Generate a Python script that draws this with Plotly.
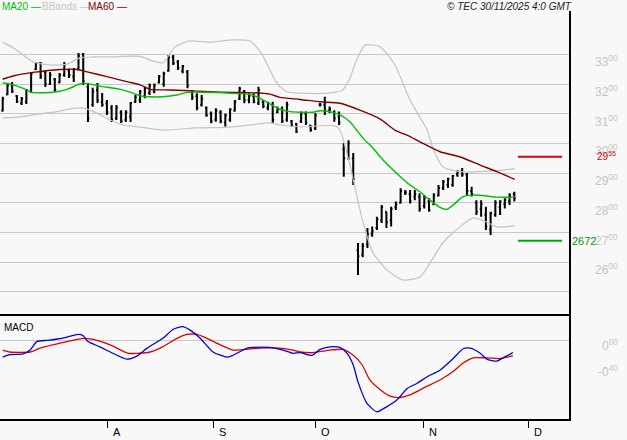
import plotly.graph_objects as go

# ---------------- data ----------------
bar_index = list(range(109))
opens = [31.10, 31.65, 31.95, 31.60, 31.35, 31.40, 31.75, 32.50, 32.70, 32.40,
         32.00, 32.15, 32.05, 32.30, 32.45, 32.25, 32.50, 33.00, 31.90, 31.30,
         31.80, 31.40, 31.35, 31.20, 30.85, 31.05, 30.80, 30.90, 31.40, 31.45,
         31.60, 31.70, 31.75, 32.05, 32.00, 32.45, 32.90, 32.75, 32.45, 32.40,
         31.75, 31.60, 31.30, 31.20, 31.00, 30.80, 31.05, 30.70, 30.80, 31.10,
         31.50, 31.75, 31.45, 31.60, 31.35, 31.40, 31.20, 31.30, 31.05, 31.15,
         30.80, 30.75, 30.65, 30.75, 31.00, 30.60, 30.50, 31.30, 31.30, 31.10,
         31.05, 30.90, 29.80, 29.60, 29.50, 26.40, 26.25, 26.60, 26.95, 27.15,
         27.40, 27.70, 27.40, 27.85, 28.00, 28.35, 28.30, 28.20, 28.20, 27.90,
         28.05, 27.95, 28.25, 28.50, 28.60, 28.60, 28.95, 29.05, 28.95, 28.40,
         28.00, 27.80, 27.60, 27.10, 27.60, 27.85, 27.95, 28.05, 28.30]
highs = [31.57, 32.03, 32.07, 31.63, 31.56, 31.83, 32.40, 32.74, 32.74, 32.47,
         32.40, 32.20, 32.37, 32.74, 32.51, 32.54, 33.04, 33.04, 32.03, 31.87,
         32.03, 31.70, 31.46, 31.29, 31.29, 31.12, 31.12, 31.39, 31.63, 31.80,
         31.91, 32.02, 32.02, 32.30, 32.41, 32.98, 32.98, 32.81, 32.64, 32.47,
         31.80, 31.69, 31.63, 31.24, 31.07, 31.18, 31.12, 31.01, 31.18, 31.46,
         31.91, 31.80, 31.69, 31.69, 31.91, 31.46, 31.40, 31.40, 31.24, 31.24,
         31.40, 30.79, 30.69, 31.07, 31.07, 30.62, 31.02, 31.36, 31.57, 31.24,
         31.12, 31.07, 30.01, 30.11, 29.68, 26.65, 26.65, 27.15, 27.20, 27.53,
         27.93, 27.70, 27.87, 28.04, 28.49, 28.43, 28.43, 28.43, 28.32, 28.26,
         28.15, 28.32, 28.60, 28.77, 28.84, 28.94, 29.10, 29.17, 29.00, 28.54,
         28.09, 28.09, 27.87, 27.70, 28.09, 28.09, 28.15, 28.32, 28.37]
lows = [31.07, 31.63, 31.70, 31.36, 31.29, 31.33, 31.70, 32.47, 32.17, 31.90,
        31.97, 31.73, 32.03, 32.24, 32.20, 32.07, 32.47, 31.97, 30.72, 31.23,
        31.36, 31.23, 30.96, 30.72, 30.79, 30.69, 30.72, 30.72, 31.36, 31.36,
        31.52, 31.63, 31.69, 32.02, 31.91, 32.41, 32.64, 32.47, 32.36, 31.86,
        31.46, 31.12, 31.24, 30.90, 30.68, 30.73, 30.68, 30.56, 30.73, 31.07,
        31.46, 31.35, 31.35, 31.35, 31.29, 31.18, 31.12, 30.69, 31.02, 30.69,
        30.73, 30.56, 30.35, 30.69, 30.62, 30.39, 30.45, 31.24, 30.96, 31.02,
        30.73, 30.62, 28.88, 29.44, 28.60, 25.57, 26.17, 26.48, 26.86, 27.08,
        27.32, 27.15, 27.20, 27.76, 27.98, 28.26, 27.98, 28.09, 27.70, 27.81,
        27.70, 27.93, 28.21, 28.43, 28.50, 28.54, 28.88, 28.88, 28.26, 28.21,
        27.59, 27.53, 27.08, 26.92, 27.53, 27.59, 27.81, 27.93, 28.04]
closes = [31.50, 31.95, 31.75, 31.40, 31.50, 31.80, 32.35, 32.70, 32.25, 32.00,
          32.30, 31.80, 32.30, 32.65, 32.30, 32.50, 32.95, 32.10, 30.85, 31.75,
          31.45, 31.30, 31.05, 30.80, 31.20, 30.75, 31.05, 31.35, 31.55, 31.75,
          31.85, 31.95, 31.95, 32.25, 32.35, 32.90, 32.70, 32.55, 32.60, 31.95,
          31.55, 31.20, 31.50, 30.95, 30.75, 31.10, 30.75, 30.95, 31.15, 31.40,
          31.85, 31.45, 31.60, 31.40, 31.80, 31.25, 31.35, 30.80, 31.15, 30.75,
          31.30, 30.60, 30.40, 31.00, 30.70, 30.45, 30.95, 31.30, 31.10, 31.15,
          30.85, 30.70, 29.50, 30.00, 28.80, 26.20, 26.55, 26.95, 27.05, 27.45,
          27.85, 27.35, 27.80, 27.95, 28.40, 28.35, 28.05, 28.30, 27.80, 28.15,
          27.75, 28.25, 28.50, 28.70, 28.80, 28.90, 29.05, 28.95, 28.40, 28.30,
          27.70, 27.95, 27.20, 27.65, 28.00, 28.05, 28.10, 28.25, 28.15]

ma20_x = [0, 2.2, 5.1, 6.2, 10.6, 13.6, 16.3, 17.8, 20.5, 24.8, 27.5, 29, 31.1, 33.8, 36.8,
          38.9, 43.1, 48, 52.8, 55, 56.4, 58.5, 60.7, 62.8, 65.5, 67, 69.1, 71.2, 73.3, 74.7,
          76.1, 78.2, 80.3, 83.2, 86, 88.1, 90.2, 92.3, 93.8, 95.1, 97.2, 99.3, 102.2, 104.3, 108.1]
ma20_y = [32.04, 31.97, 31.80, 31.72, 31.72, 31.82, 32.00, 32.02, 31.93, 31.82, 31.69, 31.60, 31.57, 31.57, 31.63,
          31.72, 31.72, 31.69, 31.63, 31.46, 31.33, 31.15, 31.07, 31.05, 31.05, 31.10, 31.07, 30.96, 30.73, 30.45,
          30.17, 29.84, 29.44, 28.99, 28.60, 28.37, 28.09, 27.85, 27.78, 27.93, 28.21, 28.26, 28.23, 28.19, 28.19]

ma60_x = [0, 2.2, 6.4, 12.1, 15.7, 17.8, 22, 26.2, 29, 31.1, 35.3, 41, 46.5, 52.2, 56.4,
          58.5, 62.8, 67, 71.2, 75.4, 79.7, 82.8, 86, 88.7, 92.3, 96.5, 100.8, 104.3, 108.1]
ma60_y = [32.16, 32.27, 32.39, 32.49, 32.49, 32.41, 32.25, 32.08, 31.97, 31.82, 31.80, 31.76, 31.72, 31.71, 31.66,
          31.55, 31.48, 31.40, 31.35, 31.12, 30.82, 30.45, 30.23, 30.00, 29.72, 29.55, 29.27, 29.05, 28.79]

bb_up_x = [0, 3, 5.1, 6.4, 10, 13.6, 16.3, 19.1, 22.7, 29, 31.1, 33.8, 36.4, 39.5, 43.8, 48, 52.2, 54.8,
           57.1, 58.5, 60, 62.8, 68.5, 71.8, 73.3, 74.7, 76.5, 79.7, 82.8, 86, 89.6, 90.8, 92.9, 97.2, 108.1]
bb_up_y = [33.41, 33.14, 32.88, 32.74, 32.64, 32.67, 32.88, 32.91, 32.91, 32.93, 32.81, 32.71, 33.25, 33.45,
           33.41, 33.48, 33.45, 32.98, 32.25, 31.91, 31.74, 31.69, 31.69, 31.80, 32.20, 32.81, 33.31, 33.25,
           32.64, 31.46, 30.45, 29.85, 29.21, 29.04, 29.14]

bb_lo_x = [0, 3.7, 6.4, 11.5, 14.2, 17, 19.9, 22.7, 25.4, 29, 33.8, 41, 48, 52.2, 56.4, 58.5, 62.8,
           70.2, 71.2, 73.3, 76.1, 78.2, 81.1, 84.5, 88.1, 90.2, 92.9, 96.5, 99.3, 102.2, 104.3, 108.1]
bb_lo_y = [30.86, 30.89, 30.96, 31.07, 31.16, 31.19, 31.02, 30.79, 30.62, 30.55, 30.45, 30.52, 30.55,
           30.62, 30.69, 30.62, 30.56, 30.59, 30.45, 29.27, 27.32, 26.31, 25.74, 25.40, 25.50, 25.97,
           26.65, 27.19, 27.49, 27.35, 27.19, 27.22]

macd_x = [0, 1.5, 4.3, 5.8, 7.2, 9.4, 11.5, 13.6, 15.9, 17, 18, 20.5, 22.7, 26.2, 28.4, 30.5, 33.8,
          36, 37.9, 39.5, 41.7, 44.4, 47.4, 48.6, 51.6, 52.8, 56.4, 59.2, 61.3, 62.8, 65.3, 67, 69.1,
          71.2, 72.7, 74, 75, 76.9, 79, 81.1, 83.2, 85.4, 87.5, 89.6, 92.3, 95.1, 97.2, 98.7, 100.8,
          102.2, 104.3, 105.6, 107.7]
macd_y = [-0.26, -0.22, -0.21, -0.15, -0.02, 0.00, 0.02, 0.05, 0.09, 0.07, -0.02, -0.10, -0.18, -0.29,
          -0.24, -0.12, 0.03, 0.17, 0.21, 0.16, 0.03, -0.18, -0.26, -0.23, -0.12, -0.11, -0.11, -0.15,
          -0.20, -0.19, -0.23, -0.14, -0.10, -0.11, -0.20, -0.38, -0.64, -0.97, -1.10, -1.02, -0.92,
          -0.74, -0.66, -0.56, -0.46, -0.28, -0.13, -0.12, -0.20, -0.29, -0.32, -0.27, -0.19]

signal_x = [0, 1.5, 5.8, 7.9, 10.6, 13.6, 17, 19.9, 22.7, 26.5, 28.4, 31.1, 33.8, 36.8, 38.9, 41, 43.1,
            45.9, 48.6, 54.3, 58.5, 61.3, 62.8, 65.5, 69.1, 71.8, 74, 75.9, 77.5, 79.7, 81.8, 83.9, 86,
            88.7, 92.3, 95.1, 97.2, 99.3, 102.2, 105, 107.7]
signal_y = [-0.15, -0.18, -0.18, -0.12, -0.07, -0.02, 0.03, 0.00, -0.07, -0.20, -0.20, -0.18, -0.10,
            0.03, 0.09, 0.09, 0.03, -0.07, -0.15, -0.12, -0.12, -0.15, -0.18, -0.19, -0.15, -0.14, -0.23,
            -0.38, -0.61, -0.76, -0.86, -0.88, -0.84, -0.74, -0.61, -0.48, -0.35, -0.27, -0.27, -0.28, -0.24]

level_high = 29.55
level_low = 26.72
level_high_label = "29<sup>55</sup>"
level_low_label = "2672"

price_ticks = [25, 26, 27, 28, 29, 30, 31, 32, 33]
price_tick_labels = ["", "26<sup>00</sup>", "27<sup>00</sup>", "28<sup>00</sup>", "29<sup>00</sup>",
                     "30<sup>00</sup>", "31<sup>00</sup>", "32<sup>00</sup>", "33<sup>00</sup>"]
macd_ticks = [0.0, -0.40]
macd_tick_labels = ["0<sup>00</sup>", "-0<sup>40</sup>"]
macd_grid = [0.0]

month_pos = [22.2, 44.6, 66.1, 88.9, 111.1]
month_labels = ["A", "S", "O", "N", "D"]

# ---------------- figure ----------------
FONT = "Liberation Sans, Arial, sans-serif"
fig = go.Figure()

fig.add_trace(go.Scatter(x=bb_up_x, y=bb_up_y, mode="lines", line=dict(color="#c4c4c4", width=1.2, shape="spline", smoothing=0.6),
                         xaxis="x", yaxis="y", hoverinfo="skip"))
fig.add_trace(go.Scatter(x=bb_lo_x, y=bb_lo_y, mode="lines", line=dict(color="#c4c4c4", width=1.2, shape="spline", smoothing=0.6),
                         xaxis="x", yaxis="y", hoverinfo="skip"))
fig.add_trace(go.Scatter(x=ma60_x, y=ma60_y, mode="lines", line=dict(color="#800000", width=1.4, shape="spline", smoothing=0.6),
                         xaxis="x", yaxis="y", hoverinfo="skip"))
fig.add_trace(go.Scatter(x=ma20_x, y=ma20_y, mode="lines", line=dict(color="#00c000", width=1.4, shape="spline", smoothing=0.6),
                         xaxis="x", yaxis="y", hoverinfo="skip"))
fig.add_trace(go.Ohlc(x=bar_index, open=opens, high=highs, low=lows, close=closes,
                      increasing=dict(line=dict(color="#000000", width=2)),
                      decreasing=dict(line=dict(color="#000000", width=2)),
                      tickwidth=0.3, xaxis="x", yaxis="y", hoverinfo="skip"))

fig.add_trace(go.Scatter(x=signal_x, y=signal_y, mode="lines", line=dict(color="#dd0000", width=1.3, shape="spline", smoothing=0.6),
                         xaxis="x2", yaxis="y2", hoverinfo="skip"))
fig.add_trace(go.Scatter(x=macd_x, y=macd_y, mode="lines", line=dict(color="#0000dd", width=1.3, shape="spline", smoothing=0.6),
                         xaxis="x2", yaxis="y2", hoverinfo="skip"))

W, H = 627, 440
L, R, T, B = 0, 58, 11, 21
PW = W - L - R  # 569
PH = H - T - B  # 408

def px_x(p):
    return (p - L) / PW

def px_y(p):
    return (H - B - p) / PH

xr = [(0 - 2.7) / 4.737, (PW - 2.7) / 4.737]

price_dom = [px_y(314), 1]
macd_dom = [0, px_y(316)]

def val_range(top_px, bot_px, v_ref, px_ref, px_per_unit):
    top = v_ref + (px_ref - top_px) / px_per_unit
    bot = v_ref - (bot_px - px_ref) / px_per_unit
    return [bot, top]

price_range = val_range(11, 314, 33, 54.3, 29.7)
macd_range = val_range(316, 419, 0, 340.3, 65)

fig.update_layout(
    width=W, height=H, margin=dict(l=L, r=R, t=T, b=B),
    paper_bgcolor="#f8f8f8", plot_bgcolor="#f8f8f8",
    showlegend=False,
    font=dict(family=FONT, size=11, color="#000"),
    xaxis=dict(domain=[0, 1], range=xr, anchor="y", showgrid=False, zeroline=False,
               showticklabels=False, ticks="", showline=True, linecolor="#000", linewidth=2,
               rangeslider=dict(visible=False), fixedrange=True),
    yaxis=dict(domain=price_dom, range=price_range, anchor="x", side="right",
               tickvals=price_ticks, showticklabels=False, ticks="",
               showgrid=True, gridcolor="#c8c8c8", gridwidth=1, zeroline=False,
               showline=True, linecolor="#000", linewidth=2),
    xaxis2=dict(domain=[0, 1], range=xr, anchor="y2", showgrid=False, zeroline=False,
                tickvals=month_pos, ticks="outside", ticklen=7, tickwidth=1, tickcolor="#000",
                showticklabels=False, showline=True, linecolor="#000", linewidth=2,
                rangeslider=dict(visible=False)),
    yaxis2=dict(domain=macd_dom, range=macd_range, anchor="x2", side="right",
                tickvals=macd_grid, showticklabels=False, ticks="",
                showgrid=True, gridcolor="#c8c8c8", gridwidth=1, zeroline=False,
                showline=True, linecolor="#000", linewidth=2),
)

ann = []
label_x = px_x(620)
for v, t in zip(price_ticks, price_tick_labels):
    if t:
        ann.append(dict(x=label_x, xref="paper", y=v, yref="y", text=t, showarrow=False,
                        xanchor="right", yanchor="top", yshift=3,
                        font=dict(family=FONT, size=12, color="#c4c4c4")))
for v, t in zip(macd_ticks, macd_tick_labels):
    ann.append(dict(x=label_x, xref="paper", y=v, yref="y2", text=t, showarrow=False,
                    xanchor="right", yanchor="top", yshift=5,
                    font=dict(family=FONT, size=12, color="#c4c4c4")))

# level markers
ann.append(dict(x=px_x(618), xref="paper", y=level_high, yref="y", text=level_high_label, showarrow=False,
                xanchor="right", yanchor="middle", yshift=1, font=dict(family=FONT, size=10, color="#cc0000")))
ann.append(dict(x=px_x(570), xref="paper", y=level_low, yref="y", text=level_low_label, showarrow=False,
                xanchor="left", yanchor="middle", font=dict(family=FONT, size=11, color="#009900")))

# month letters
for p, t in zip(month_pos, month_labels):
    ann.append(dict(x=p, xref="x2", y=px_y(432), yref="paper", text=t, showarrow=False,
                    xanchor="left", yanchor="middle", xshift=3,
                    font=dict(family=FONT, size=11, color="#000")))

# legend / header
ann.append(dict(x=px_x(0), xref="paper", y=px_y(6), yref="paper", text="MA20 —", showarrow=False,
                xanchor="left", yanchor="middle", font=dict(family=FONT, size=10, color="#00c000")))
ann.append(dict(x=px_x(40), xref="paper", y=px_y(6), yref="paper", text="BBands —", showarrow=False,
                xanchor="left", yanchor="middle", font=dict(family=FONT, size=10, color="#c4c4c4")))
ann.append(dict(x=px_x(86), xref="paper", y=px_y(6), yref="paper", text="MA60 —", showarrow=False,
                xanchor="left", yanchor="middle", font=dict(family=FONT, size=10, color="#800000")))
ann.append(dict(x=px_x(574), xref="paper", y=px_y(6), yref="paper", text="<i>© TEC 30/11/2025 4:0 GMT</i>",
                showarrow=False, xanchor="right", yanchor="middle", font=dict(family=FONT, size=10, color="#222")))
ann.append(dict(x=px_x(2), xref="paper", y=px_y(327), yref="paper", text="MACD", showarrow=False,
                xanchor="left", yanchor="middle", font=dict(family=FONT, size=10, color="#000")))

fig.update_layout(annotations=ann)

shapes = [
    dict(type="line", xref="paper", yref="y", x0=px_x(518), x1=px_x(562), y0=level_high, y1=level_high,
         line=dict(color="#dd0000", width=2)),
    dict(type="line", xref="paper", yref="y", x0=px_x(518), x1=px_x(562), y0=level_low, y1=level_low,
         line=dict(color="#00aa00", width=2)),
]
fig.update_layout(shapes=shapes)

fig.write_html("out.html", config={"displayModeBar": False},
               post_script="document.body.style.margin='0';document.body.style.background='#f8f8f8';")
